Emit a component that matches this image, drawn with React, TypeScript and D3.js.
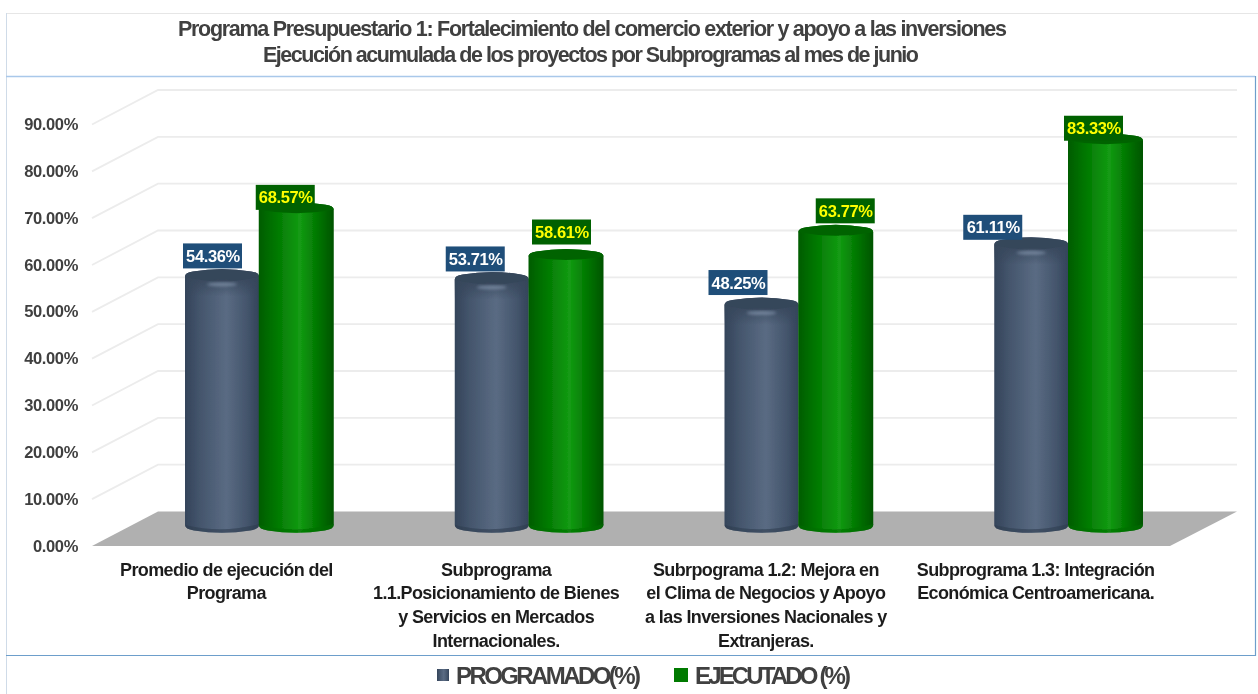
import React from 'react';
import * as d3 from 'd3';

const categories = [
  ['Promedio de ejecución del', 'Programa'],
  ['Subprograma', '1.1.Posicionamiento de Bienes', 'y Servicios en Mercados', 'Internacionales.'],
  ['Subrpograma 1.2: Mejora en', 'el Clima de Negocios y Apoyo', 'a las Inversiones Nacionales y', 'Extranjeras.'],
  ['Subprograma 1.3: Integración', 'Económica Centroamericana.'],
];
const programado = [54.36, 53.71, 48.25, 61.11];
const ejecutado = [68.57, 58.61, 63.77, 83.33];
const yTicks = [0, 10, 20, 30, 40, 50, 60, 70, 80, 90];
const titleLines = [
  'Programa Presupuestario 1: Fortalecimiento del comercio exterior y apoyo a las inversiones',
  'Ejecución acumulada de los proyectos por Subprogramas al mes de junio',
];
const seriesNames = ['PROGRAMADO(%)', 'EJECUTADO (%)'];
// hand-placed label nudges of the original chart, relative to each bar
const nudgeProgX = [-9.5, -16.5, -23.5, -38.5];
const nudgeProgY = [0, 0, -2, 3];
const nudgeEjecX = [-11, -4.5, 9.5, -12];
const nudgeEjecY = [8, -4, -1, 8];

const W = 1258;
const H = 694;
const FONT = '"Liberation Sans", Arial, sans-serif';

const y = d3.scaleLinear().domain([0, 90]).range([546, 124.5]);
const x0 = d3.scaleBand<number>().domain([0, 1, 2, 3]).range([124, 1203]);
const x1 = d3.scaleBand<string>().domain(['p', 'e']).range([-74, 74.5]);
const DEPTH_X = 66;
const DEPTH_Y = 34.5;
const FRONT_L = 92;
const BACK_R = 1237;
const fmt = (v: number) => d3.format('.2f')(v) + '%';

function Cyl({ cx, rx, top, base, kind }: { cx: number; rx: number; top: number; base: number; kind: 'p' | 'e' }) {
  const ry = 5;
  const l = cx - rx;
  const r = cx + rx;
  const dome = `M${l},${top + 3} Q${l},${top - 1} ${l + 8},${top - 2} Q${cx},${top - ry - 2} ${r - 8},${top - 2} Q${r},${top - 1} ${r},${top + 3}`;
  const bottom = `L${r},${base - 3} Q${r},${base + 1} ${r - 9},${base + 2.5} Q${cx},${base + ry + 2} ${l + 9},${base + 2.5} Q${l},${base + 1} ${l},${base - 3}`;
  const body = `${dome} ${bottom} Z`;
  const lip = `${dome} Q${cx},${top + (kind === 'p' ? 13 : 10)} ${l},${top + 3} Z`;
  const crescent = `M${r},${base - 4} ${bottom} Q${cx},${base + ry + 1} ${r},${base - 4} Z`;
  return (
    <g filter="url(#soft)">
      <path d={body} fill={`url(#grad-${kind})`} />
      {kind === 'p' && <rect x={l} y={top + 3} width={2 * rx} height={20} fill="url(#fade-p)" />}
      <path d={lip} fill={kind === 'p' ? '#36465a' : '#006400'} />
      <path d={crescent} fill={kind === 'p' ? '#2e3d50' : '#006e00'} opacity={0.6} />
      {kind === 'p' && (
        <ellipse cx={cx} cy={top + 11} rx={rx * 0.4} ry={2} fill="#7f90a8" opacity={0.75} filter="url(#soft2)" />
      )}
    </g>
  );
}

export default function App() {
  const barTop = (v: number) => y(v) - 18;
  const barBase = y(0) - 18;
  const rx = 37;
  return (
    <svg
      width={W}
      height={H}
      viewBox={`0 0 ${W} ${H}`}
      style={{ position: 'absolute', left: 0, top: 0, background: '#fff', fontFamily: FONT }}
    >
      <defs>
        <linearGradient id="grad-p">
          <stop offset="0" stopColor="#34445a" />
          <stop offset="0.2" stopColor="#44556c" />
          <stop offset="0.56" stopColor="#5a6b83" />
          <stop offset="0.85" stopColor="#43546b" />
          <stop offset="1" stopColor="#33435a" />
        </linearGradient>
        <linearGradient id="fade-p" x1="0" x2="0" y1="0" y2="1">
          <stop offset="0" stopColor="#36465a" stopOpacity="0.9" />
          <stop offset="1" stopColor="#36465a" stopOpacity="0" />
        </linearGradient>
        <linearGradient id="grad-e">
          <stop offset="0" stopColor="#005c00" />
          <stop offset="0.2" stopColor="#007400" />
          <stop offset="0.55" stopColor="#139b13" />
          <stop offset="0.8" stopColor="#007400" />
          <stop offset="1" stopColor="#005400" />
        </linearGradient>
        <filter id="soft" x="-5%" y="-5%" width="110%" height="110%">
          <feGaussianBlur stdDeviation="0.6" />
        </filter>
        <filter id="soft2" x="-30%" y="-150%" width="160%" height="400%">
          <feGaussianBlur stdDeviation="1.5" />
        </filter>
        <filter id="txt" x="-2%" y="-10%" width="104%" height="120%">
          <feGaussianBlur stdDeviation="0.3" />
        </filter>
      </defs>

      {/* frame */}
      <line x1={6.5} x2={W} y1={13.5} y2={13.5} stroke="#e6e6e6" strokeWidth={1} />
      <line x1={6.5} x2={6.5} y1={13} y2={H} stroke="#cfdbe8" strokeWidth={1} />
      <line x1={6} x2={1255} y1={76.5} y2={76.5} stroke="#a9c8ea" strokeWidth={1.5} />
      <line x1={6} x2={1255} y1={655.5} y2={655.5} stroke="#6d9ecb" strokeWidth={1.2} />
      <line x1={1255.5} x2={1255.5} y1={76} y2={656} stroke="#6d9ecb" strokeWidth={1.2} />

      {/* title */}
      <g filter="url(#txt)">
        {titleLines.map((t, i) => (
          <text
            key={i}
            x={i === 0 ? 592.5 : 591}
            y={i === 0 ? 36 : 62}
            textAnchor="middle"
            fontSize={21.5}
            fontWeight={700}
            fill="#404040"
            textLength={i === 0 ? 829 : 656}
            lengthAdjust="spacing"
          >
            {t}
          </text>
        ))}
      </g>

      {/* wall and gridlines */}
      <g stroke="#ececec" strokeWidth={1.8} fill="none" filter="url(#txt)">
        {yTicks.filter((t) => t > 0).map((t) => (
          <polyline
            key={t}
            points={`${FRONT_L},${y(t)} ${FRONT_L + DEPTH_X},${y(t) - DEPTH_Y} ${BACK_R},${y(t) - DEPTH_Y}`}
          />
        ))}
      </g>

      {/* floor */}
      <polygon
        points={`${FRONT_L},${y(0)} ${FRONT_L + DEPTH_X},${y(0) - DEPTH_Y} ${BACK_R},${y(0) - DEPTH_Y} ${BACK_R - DEPTH_X - 1},${y(0)}`}
        fill="#b0b0b0"
        filter="url(#soft)"
      />

      {/* tick labels */}
      <g filter="url(#txt)">
        {yTicks.map((t) => (
          <text
            key={t}
            x={78}
            y={y(t) + 5.5}
            textAnchor="end"
            fontSize={16.5}
            fontWeight={700}
            fill="#404040"
            letterSpacing={-0.35}
          >
            {fmt(t)}
          </text>
        ))}
      </g>

      {/* cylinders */}
      {categories.map((_, i) => {
        const c = x0(i)! + x0.bandwidth() / 2;
        return (
          <g key={i}>
            <Cyl cx={c + x1('p')! + x1.bandwidth() / 2} rx={rx} top={barTop(programado[i])} base={barBase} kind="p" />
            <Cyl cx={c + x1('e')! + x1.bandwidth() / 2} rx={rx + 0.5} top={barTop(ejecutado[i])} base={barBase} kind="e" />
          </g>
        );
      })}

      {/* data labels */}
      {categories.map((_, i) => {
        const c = x0(i)! + x0.bandwidth() / 2;
        const items = [
          { v: programado[i], k: 'p', dx: nudgeProgX[i], dy: nudgeProgY[i], bg: '#1f4e79', fg: '#ffffff' },
          { v: ejecutado[i], k: 'e', dx: nudgeEjecX[i], dy: nudgeEjecY[i], bg: '#006100', fg: '#ffff00' },
        ];
        return items.map((d) => {
          const cx = c + x1(d.k)! + x1.bandwidth() / 2 + d.dx;
          const bottom = y(d.v) - 23 + d.dy;
          return (
            <g key={d.k}>
              <rect x={cx - 29.5} y={bottom - 25} width={59} height={25} fill={d.bg} />
              <text
                x={cx + 0.5}
                y={bottom - 6.5}
                textAnchor="middle"
                fontSize={16.5}
                fontWeight={700}
                fill={d.fg}
                letterSpacing={-0.35}
                filter="url(#txt)"
              >
                {fmt(d.v)}
              </text>
            </g>
          );
        });
      })}

      {/* category labels */}
      <g filter="url(#txt)">
        {categories.map((lines, i) => (
          <g key={i}>
            {lines.map((ln, j) => (
              <text
                key={j}
                x={x0(i)! + x0.bandwidth() / 2 - 32.5}
                y={575.5 + j * 23.7}
                textAnchor="middle"
                fontSize={18}
                fontWeight={700}
                fill="#1f1f1f"
                letterSpacing={-0.62}
              >
                {ln}
              </text>
            ))}
          </g>
        ))}
      </g>

      {/* legend */}
      <rect x={437} y={669} width={12} height={12} fill="url(#grad-p)" />
      <rect x={674} y={668} width={14} height={14} fill="#007a00" />
      <g filter="url(#txt)">
        <text x={456} y={683.5} fontSize={24} fontWeight={700} fill="#404040" textLength={185} lengthAdjust="spacing">
          {seriesNames[0]}
        </text>
        <text x={695} y={683.5} fontSize={24} fontWeight={700} fill="#404040" textLength={156} lengthAdjust="spacing">
          {seriesNames[1]}
        </text>
      </g>
    </svg>
  );
}
